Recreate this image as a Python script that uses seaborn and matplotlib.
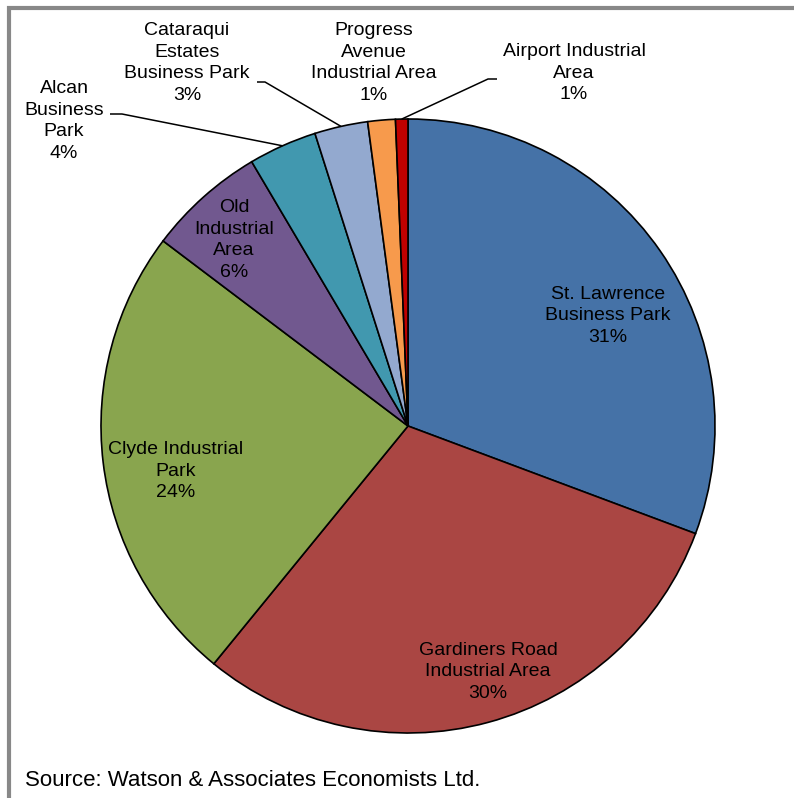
import numpy as np
import matplotlib
matplotlib.use("Agg")
import matplotlib.pyplot as plt
import seaborn as sns

# Share of employment land by business park (%), clockwise from 12 o'clock
parks = [
    "St. Lawrence\nBusiness Park",
    "Gardiners Road\nIndustrial Area",
    "Clyde Industrial\nPark",
    "Old\nIndustrial\nArea",
    "Alcan\nBusiness\nPark",
    "Cataraqui\nEstates\nBusiness Park",
    "Progress\nAvenue\nIndustrial Area",
    "Airport Industrial\nArea",
]
shares = [30.7, 30.2, 24.4, 6.2, 3.6, 2.8, 1.45, 0.65]
colors = ["#4572A7", "#AA4643", "#89A54E", "#71588F",
          "#4198AF", "#93A9CF", "#F79A4C", "#C00000"]
source_note = "Source: Watson & Associates Economists Ltd."

sns.set_theme(style="white")
plt.rcParams["font.family"] = ["Liberation Sans", "DejaVu Sans"]

W, H = 794, 798
fig = plt.figure(figsize=(W / 100, H / 100), dpi=100)
ax = fig.add_axes([0, 0, 1, 1])

cx, cy, r = 408, H - 426, 307
palette = sns.color_palette(colors)
wedges, _ = ax.pie(
    shares, colors=palette, startangle=90, counterclock=False,
    center=(cx, cy), radius=r, frame=True,
    wedgeprops=dict(edgecolor="black", linewidth=1.2),
)
ax.set_xlim(0, W)
ax.set_ylim(0, H)
ax.set_aspect("equal")
ax.axis("off")

total = sum(shares)
pct = [f"{round(v / total * 100):d}%" for v in shares]

# label centres in pixel coordinates (x, y from top)
label_pos = [(608, 316), (488, 672), (176, 471), (234, 240),
             (64, 121), (187, 63), (374, 63), (574, 73)]
for name, p, (lx, ly) in zip(parks, pct, label_pos):
    ax.text(lx, H - ly, f"{name}\n{p}", ha="center", va="center",
            fontsize=14, linespacing=1.36, color="black")

# leader lines for the small outer slices
leaders = {4: [(110, 114), (122, 114)],
           5: [(257, 82), (265, 82)],
           7: [(497, 79), (488, 79)]}
for i, pts in leaders.items():
    w = wedges[i]
    mid = np.deg2rad((w.theta1 + w.theta2) / 2)
    ex, ey = cx + r * np.cos(mid), cy + r * np.sin(mid)
    xs = [p[0] for p in pts] + [ex]
    ys = [H - p[1] for p in pts] + [ey]
    ax.plot(xs, ys, color="black", lw=1.1, solid_capstyle="butt")

ax.text(25, H - 781, source_note, ha="left", va="center",
        fontsize=16, color="black")

# outer frame
ax.plot([9, 9, W + 5], [-5, H - 8, H - 8], color="#888888", lw=3,
        solid_capstyle="butt", solid_joinstyle="miter", clip_on=False)

fig.savefig("out.png", dpi=100)
